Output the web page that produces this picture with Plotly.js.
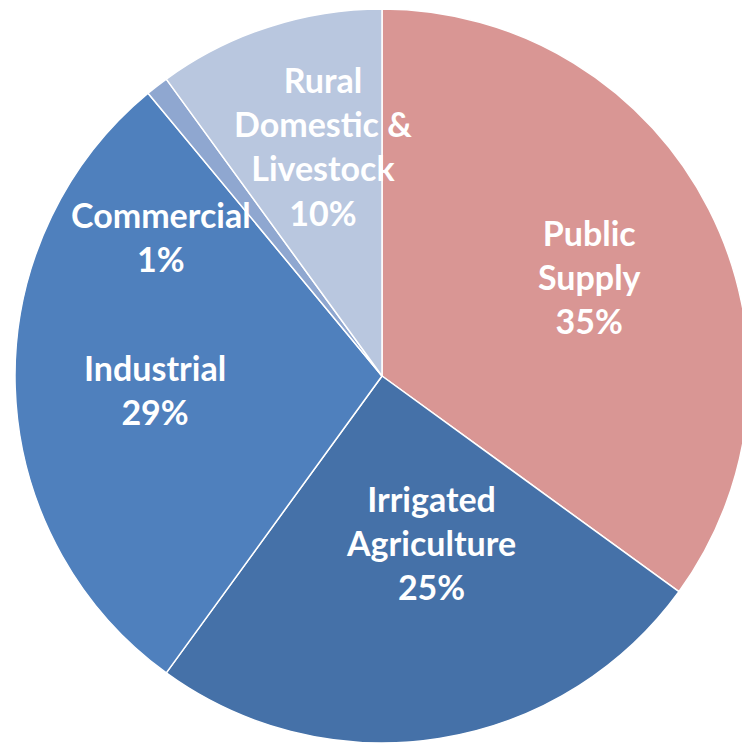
<!DOCTYPE html>
<html>
<head>
<meta charset="utf-8">
<script src="https://cdn.plot.ly/plotly-3.0.1.min.js"></script>
<style>
html, body { margin: 0; padding: 0; background: #ffffff; overflow: hidden; }
#chart { width: 764px; height: 749px; }
</style>
</head>
<body>
<div id="chart"></div>
<script>
// Data
const categories = ["Public Supply", "Irrigated Agriculture", "Industrial", "Commercial", "Rural Domestic & Livestock"];
const labelLines = ["Public<br>Supply", "Irrigated<br>Agriculture", "Industrial", "Commercial", "Rural<br>Domestic &<br>Livestock"];
const shares = [35, 25, 29, 1, 10];
const sliceColors = ["#d99694", "#4571a8", "#4f80bd", "#8fa7d0", "#b9c7df"];

// Layout geometry (pixels)
const W = 764, H = 749;
const M = { l: 15, r: 15, t: 9, b: 6 };
const plotW = W - M.l - M.r, plotH = H - M.t - M.b;
// label centre positions in pixels, per category
const labelPos = [[589, 276], [431, 542], [155, 390], [161, 237], [323, 146]];

const annotations = categories.map((c, i) => ({
  xref: "paper", yref: "paper",
  x: (labelPos[i][0] - M.l) / plotW,
  y: 1 - (labelPos[i][1] - M.t) / plotH,
  xanchor: "center", yanchor: "middle",
  text: labelLines[i] + "<br>" + shares[i] + "%",
  showarrow: false,
  align: "center",
  font: { family: "Lato, 'Open Sans', sans-serif", size: 34, color: "#ffffff", weight: "bold" }
}));

const trace = {
  type: "pie",
  labels: categories,
  values: shares,
  sort: false,
  direction: "clockwise",
  rotation: 0,
  textinfo: "none",
  hoverinfo: "none",
  marker: { colors: sliceColors, line: { color: "#ffffff", width: 1.5 } },
  domain: { x: [0, 1], y: [0, 1] }
};

const layout = {
  width: W, height: H,
  margin: M,
  showlegend: false,
  paper_bgcolor: "#ffffff",
  plot_bgcolor: "#ffffff",
  annotations: annotations
};

Plotly.newPlot("chart", [trace], layout, { displayModeBar: false, staticPlot: true });
</script>
</body>
</html>
